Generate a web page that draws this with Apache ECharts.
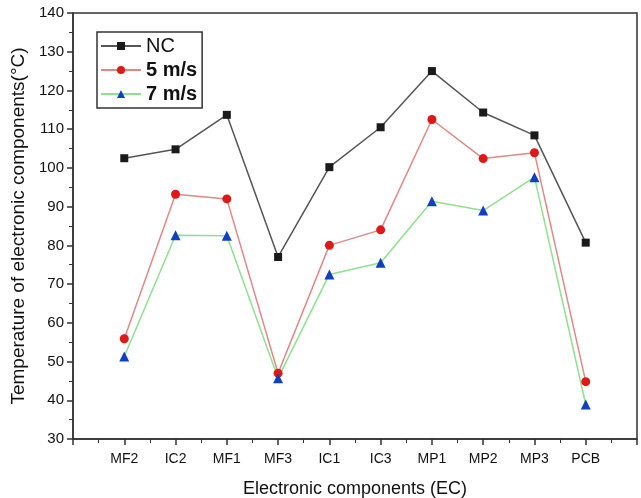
<!DOCTYPE html>
<html lang="en">
<head>
    <meta charset="UTF-8">
    <title>Temperature of electronic components</title>
    <script src="https://cdn.jsdelivr.net/npm/echarts@6/dist/echarts.min.js"></script>
    <style>
        html, body { margin: 0; padding: 0; background: #fff; }
    </style>
</head>
<body>
    <div id="myChart" style="width: 641px; height: 498px;"></div>
    <script>
        // categories (placed at 1..10 on a 0..11 value axis)
        const components = ['MF2', 'IC2', 'MF1', 'MF3', 'IC1', 'IC3', 'MP1', 'MP2', 'MP3', 'PCB'];
        const ncTemp = [102.5, 104.8, 113.7, 77.0, 100.2, 110.5, 125.0, 114.3, 108.4, 80.7];
        const temp5 = [55.9, 93.2, 92.0, 47.0, 80.0, 84.0, 112.5, 102.4, 103.9, 44.8];
        const temp7 = [51.3, 82.6, 82.5, 45.7, 72.5, 75.5, 91.4, 89.0, 97.6, 38.9];

        var myChart = echarts.init(document.getElementById('myChart'));
        var font = 'Liberation Sans';

        function pairs(arr) {
            return arr.map(function (v, i) { return [i + 1, v]; });
        }

        var option = {
            animation: false,
            textStyle: { fontFamily: font },
            grid: {
                left: 73, right: 4, top: 13, bottom: 59,
                outerBoundsMode: 'none',
                show: true, borderColor: '#333', borderWidth: 1.5
            },
            legend: {
                orient: 'vertical',
                left: 97, top: 32,
                itemWidth: 40, itemHeight: 10, itemGap: 4,
                padding: [4, 5, 4, 3],
                borderColor: '#333', borderWidth: 1.5,
                textStyle: { fontFamily: font, fontSize: 20, color: '#111' },
                data: [
                    { name: 'NC' },
                    { name: '5 m/s', textStyle: { fontWeight: 'bold' } },
                    { name: '7 m/s', textStyle: { fontWeight: 'bold' } }
                ]
            },
            xAxis: {
                type: 'value', min: 0, max: 11, interval: 1,
                name: 'Electronic components (EC)',
                nameLocation: 'middle', nameGap: 41,
                nameTextStyle: { fontSize: 18, color: '#111' },
                axisLine: { lineStyle: { color: '#333', width: 1.5 } },
                axisTick: { length: 6, lineStyle: { color: '#333', width: 1.5 } },
                minorTick: { show: true, splitNumber: 2, length: 4, lineStyle: { color: '#333' } },
                splitLine: { show: false },
                axisLabel: {
                    fontSize: 14, color: '#111', margin: 13,
                    formatter: function (v) { return components[v - 1] || ''; }
                }
            },
            yAxis: {
                type: 'value', min: 30, max: 140, interval: 10,
                name: 'Temperature of electronic components(°C)',
                nameLocation: 'middle', nameGap: 42,
                nameTextStyle: { fontSize: 19, color: '#111' },
                axisLine: { show: true, lineStyle: { color: '#333', width: 1.5 } },
                axisTick: { show: true, length: 6, lineStyle: { color: '#333', width: 1.5 } },
                minorTick: { show: true, splitNumber: 2, length: 4, lineStyle: { color: '#333' } },
                splitLine: { show: false },
                axisLabel: { fontSize: 15, color: '#111', margin: 9 }
            },
            series: [
                {
                    name: 'NC', type: 'line', data: pairs(ncTemp),
                    symbol: 'rect', symbolSize: 8,
                    itemStyle: { color: '#1a1a1a' },
                    lineStyle: { color: '#555', width: 1.5 }
                },
                {
                    name: '5 m/s', type: 'line', data: pairs(temp5),
                    symbol: 'circle', symbolSize: 9,
                    itemStyle: { color: '#e01818' },
                    lineStyle: { color: '#e08888', width: 1.5 }
                },
                {
                    name: '7 m/s', type: 'line', data: pairs(temp7),
                    symbol: 'triangle', symbolSize: 10,
                    itemStyle: { color: '#1040c0' },
                    lineStyle: { color: '#90e090', width: 1.5 }
                }
            ]
        };

        myChart.setOption(option);
    </script>
</body>
</html>
